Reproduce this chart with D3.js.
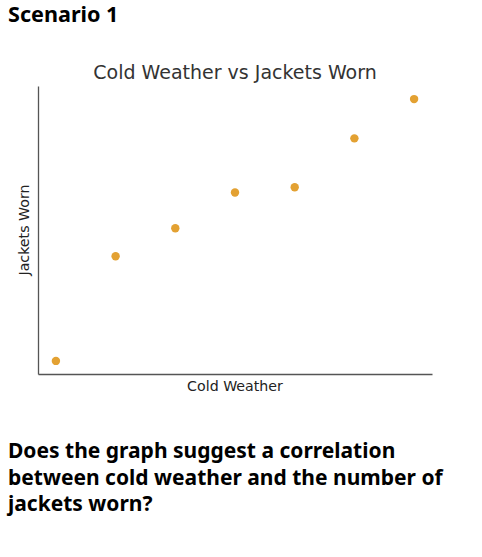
<!DOCTYPE html>
<html>
<head>
<meta charset="utf-8">
<script src="https://cdn.jsdelivr.net/npm/d3@7"></script>
<style>
  body { margin: 0; background: #fff; }
  svg { display: block; }
  .mpl { font-family: "DejaVu Sans", sans-serif; }
  .bold { font-family: "Noto Sans", sans-serif; font-weight: bold; }
</style>
</head>
<body>
<div id="chart"></div>
<script>
// cold weather index vs jackets worn
const coldWeather = [1, 2, 3, 4, 5, 6, 7];
const jacketsWorn = [5, 17, 20.2, 24.3, 24.9, 30.5, 35];

const headline = 'Scenario 1';
const chartTitle = 'Cold Weather vs Jackets Worn';
const xLabel = 'Cold Weather';
const yLabel = 'Jackets Worn';
const question = [
  'Does the graph suggest a correlation',
  'between cold weather and the number of',
  'jackets worn?'
];

const width = 482;
const height = 557;
const margin = { top: 86, right: 50, bottom: 183, left: 38 };
const pointColor = '#e3a132';

const svg = d3.select('#chart').append('svg')
  .attr('width', width)
  .attr('height', height);

const plotW = width - margin.left - margin.right;
const plotH = height - margin.top - margin.bottom;

// matplotlib-style 5% padding around the data
function padded(values) {
  const [lo, hi] = d3.extent(values);
  const pad = (hi - lo) * 0.05;
  return [lo - pad, hi + pad];
}

const x = d3.scaleLinear().domain(padded(coldWeather)).range([0, plotW]);
const y = d3.scaleLinear().domain(padded(jacketsWorn)).range([plotH, 0]);

const g = svg.append('g')
  .attr('transform', `translate(${margin.left},${margin.top})`);

// spines only, no ticks
const xAxis = g.append('g')
  .attr('transform', `translate(0,${plotH})`)
  .call(d3.axisBottom(x).tickValues([]).tickSizeOuter(0));
const yAxis = g.append('g')
  .call(d3.axisLeft(y).tickValues([]).tickSizeOuter(0));
[xAxis, yAxis].forEach(a => a.select('.domain')
  .attr('stroke', '#555')
  .attr('stroke-width', 1.3));

g.selectAll('circle')
  .data(coldWeather.map((d, i) => ({ x: d, y: jacketsWorn[i] })))
  .join('circle')
  .attr('cx', d => x(d.x))
  .attr('cy', d => y(d.y))
  .attr('r', 4.2)
  .attr('fill', pointColor);

g.append('text')
  .attr('class', 'mpl')
  .attr('x', plotW / 2)
  .attr('y', -7)
  .attr('text-anchor', 'middle')
  .style('font-size', '19px')
  .attr('fill', '#333')
  .text(chartTitle);

g.append('text')
  .attr('class', 'mpl')
  .attr('x', plotW / 2)
  .attr('y', plotH + 17)
  .attr('text-anchor', 'middle')
  .style('font-size', '14.2px')
  .attr('fill', '#222')
  .text(xLabel);

g.append('text')
  .attr('class', 'mpl')
  .attr('transform', `translate(-9.5,${plotH / 2}) rotate(-90)`)
  .attr('text-anchor', 'middle')
  .style('font-size', '14.2px')
  .attr('fill', '#222')
  .text(yLabel);

svg.append('text')
  .attr('class', 'bold')
  .attr('x', 8)
  .attr('y', 22)
  .style('font-size', '21.6px')
  .attr('fill', '#000')
  .text(headline);

svg.append('text')
  .attr('class', 'bold')
  .style('font-size', '21px')
  .attr('fill', '#000')
  .selectAll('tspan')
  .data(question)
  .join('tspan')
  .attr('x', 8)
  .attr('y', (d, i) => 458 + i * 26.5)
  .text(d => d);
</script>
</body>
</html>
